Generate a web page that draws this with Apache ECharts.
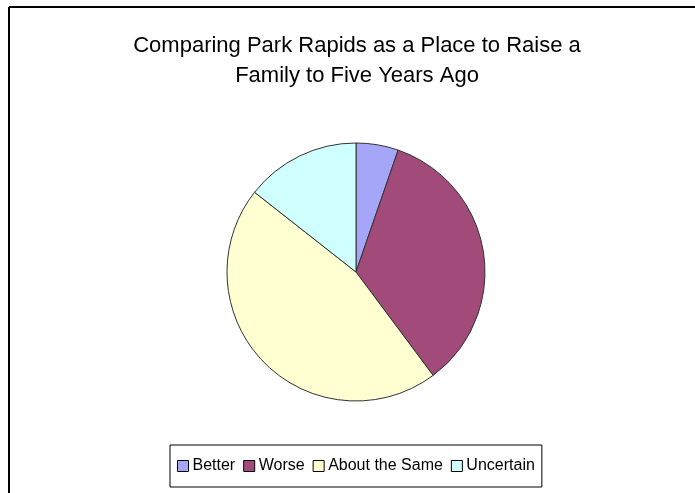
<!DOCTYPE html>
<html>
<head>
<meta charset="utf-8">
<script src="https://cdn.jsdelivr.net/npm/echarts@6/dist/echarts.min.js"></script>
<style>
  html, body { margin: 0; padding: 0; background: #fff; }
  #chart { width: 695px; height: 493px; }
</style>
</head>
<body>
<div id="chart"></div>
<script>
const categories = ['Better', 'Worse', 'About the Same', 'Uncertain'];
const values = [5.3, 34.5, 45.8, 14.4];
const colors = ['#A6A6F8', '#A24A7A', '#FFFFD2', '#D0FFFF'];

const chart = echarts.init(document.getElementById('chart'));
const font = 'Arial, "Liberation Sans", sans-serif';

const option = {
  animation: false,
  backgroundColor: '#fff',
  title: {
    text: 'Comparing Park Rapids as a Place to Raise a\nFamily to Five Years Ago',
    left: 352,
    textAlign: 'center',
    top: 26,
    textStyle: {
      fontFamily: font,
      fontSize: 22,
      fontWeight: 'normal',
      color: '#000',
      lineHeight: 30
    }
  },
  legend: {
    data: categories,
    left: 170,
    top: 445,
    orient: 'horizontal',
    icon: 'rect',
    itemWidth: 11,
    itemHeight: 11,
    itemGap: 8,
    padding: [13, 7, 13, 7],
    borderColor: '#000',
    borderWidth: 1,
    textStyle: { fontFamily: font, fontSize: 16, color: '#000', padding: [0, 0, 0, -1] },
    itemStyle: { borderColor: '#000', borderWidth: 1 }
  },
  graphic: [
    { type: 'line', shape: { x1: 9, y1: 7, x2: 695, y2: 7 }, style: { stroke: '#000', lineWidth: 2 } },
    { type: 'line', shape: { x1: 9, y1: 7, x2: 9, y2: 493 }, style: { stroke: '#000', lineWidth: 2 } }
  ],
  series: [{
    type: 'pie',
    center: [356, 272],
    radius: 129,
    startAngle: 90,
    clockwise: true,
    label: { show: false },
    labelLine: { show: false },
    emphasis: { disabled: true },
    itemStyle: { borderColor: '#333', borderWidth: 1 },
    data: categories.map((name, i) => ({
      name: name,
      value: values[i],
      itemStyle: { color: colors[i] }
    }))
  }]
};

chart.setOption(option);
</script>
</body>
</html>
